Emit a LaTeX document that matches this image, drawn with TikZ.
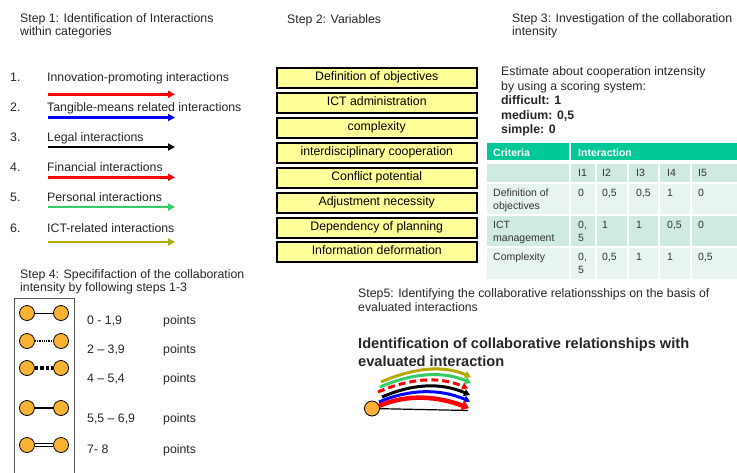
\documentclass[tikz,border=0pt]{standalone}
\usepackage{fontspec}
\setmainfont{Liberation Sans}
\usetikzlibrary{arrows.meta}
\definecolor{boxyellow}{HTML}{FFFF99}
\definecolor{hdrgreen}{HTML}{00C896}
\definecolor{rowdark}{HTML}{CFEADF}
\definecolor{rowlight}{HTML}{E8F5EF}
\definecolor{celltext}{HTML}{333333}
\definecolor{igreen}{HTML}{33CC66}
\definecolor{iolive}{HTML}{B4AA00}
\definecolor{dotorange}{HTML}{F9B233}
\definecolor{framegray}{HTML}{555555}
\begin{document}
\begin{tikzpicture}[x=1pt,y=-1pt,
  font=\fontsize{12.3}{13.5}\selectfont,
  txt/.style={anchor=base west, inner sep=0pt, text=black!85},
  varbox/.style={draw=black, line width=1.5pt, fill=boxyellow, minimum width=200pt, minimum height=20pt, inner sep=0pt, text height=8.8pt, text depth=2.6pt, anchor=north west},
  larrow/.style={line width=2.5pt, -{Triangle[length=7pt,width=7pt]}},
  cell/.style={anchor=base west, inner sep=0pt, text=celltext, font=\fontsize{10.5}{12}\selectfont},
  hcell/.style={anchor=base west, inner sep=0pt, text=white, font=\bfseries\fontsize{10.5}{12}\selectfont},
  dot/.style={circle, draw=black, line width=0.8pt, fill=dotorange, minimum size=15pt, inner sep=0pt},
  barc/.style={-{Triangle[length=6pt,width=7pt]}, line width=3pt}
]
\useasboundingbox (0,0) rectangle (737,472);

% ---------- Step 1
\node[txt] (s1a) at (20,22) {Step 1: Identification of Interactions};
\node[txt] (s1b) at (20,35.5) {within categories};

\node[txt] (n1) at (10,81) {1.};
\node[txt] (t1) at (47,81) {Innovation-promoting interactions};
\coordinate (a1s) at (48,94.3); \coordinate (a1e) at (175,94.3);
\draw[larrow, red] (a1s) -- (a1e);

\node[txt] (n2) at (10,111) {2.};
\node[txt] (t2) at (47,111) {Tangible-means related interactions};
\coordinate (a2s) at (48,117.5); \coordinate (a2e) at (175,117.5);
\draw[larrow, blue] (a2s) -- (a2e);

\node[txt] (n3) at (10,141) {3.};
\node[txt] (t3) at (47,141) {Legal interactions};
\coordinate (a3s) at (48,147); \coordinate (a3e) at (175,147);
\draw[larrow, black] (a3s) -- (a3e);

\node[txt] (n4) at (10,171) {4.};
\node[txt] (t4) at (47,171) {Financial interactions};
\coordinate (a4s) at (48,177.3); \coordinate (a4e) at (175,177.3);
\draw[larrow, red] (a4s) -- (a4e);

\node[txt] (n5) at (10,201) {5.};
\node[txt] (t5) at (47,201) {Personal interactions};
\coordinate (a5s) at (48,207); \coordinate (a5e) at (175,207);
\draw[larrow, igreen] (a5s) -- (a5e);

\node[txt] (n6) at (10,232) {6.};
\node[txt] (t6) at (47,232) {ICT-related interactions};
\coordinate (a6s) at (48,242); \coordinate (a6e) at (175,242);
\draw[larrow, iolive] (a6s) -- (a6e);

% ---------- Step 2
\node[txt] (s2) at (287,23.5) {Step 2: Variables};
\node[varbox] (v1) at (276,67) {Definition of objectives};
\node[varbox] (v2) at (276,92) {ICT administration};
\node[varbox] (v3) at (276,117) {complexity};
\node[varbox] (v4) at (276,142) {interdisciplinary cooperation};
\node[varbox] (v5) at (276,167) {Conflict potential};
\node[varbox] (v6) at (276,192) {Adjustment necessity};
\node[varbox] (v7) at (276,217) {Dependency of planning};
\node[varbox] (v8) at (276,241) {Information deformation};

% ---------- Step 3
\node[txt] (s3a) at (512,22) {Step 3: Investigation of the collaboration};
\node[txt] (s3b) at (512,35.5) {intensity};
\node[txt] (e1) at (501,75.5) {Estimate about cooperation intzensity};
\node[txt] (e2) at (501,90) {by using a scoring system:};
\node[txt, font=\bfseries\fontsize{12.3}{13.5}\selectfont] (e3) at (501,104.5) {difficult: 1};
\node[txt, font=\bfseries\fontsize{12.3}{13.5}\selectfont] (e4) at (501,119) {medium: 0,5};
\node[txt, font=\bfseries\fontsize{12.3}{13.5}\selectfont] (e5) at (501,133.5) {simple: 0};

% table backgrounds
\fill[hdrgreen] (487,143) rectangle (569,160);
\fill[hdrgreen] (571,143) rectangle (737,160);
\foreach \ya/\yb/\col in {164/182/rowdark,184/214/rowlight,216/246/rowdark,248/279/rowlight}{
  \fill[\col] (487,\ya) rectangle (569,\yb);
  \fill[\col] (571,\ya) rectangle (595,\yb);
  \fill[\col] (597,\ya) rectangle (627,\yb);
  \fill[\col] (629,\ya) rectangle (658,\yb);
  \fill[\col] (660,\ya) rectangle (690,\yb);
  \fill[\col] (692,\ya) rectangle (737,\yb);
}
\node[hcell] (hc) at (493,156) {Criteria};
\node[hcell] (hi) at (578,156) {Interaction};
\node[cell] (i1) at (578,176) {I1};
\node[cell] (i2) at (602,176) {I2};
\node[cell] (i3) at (636,176) {I3};
\node[cell] (i4) at (667,176) {I4};
\node[cell] (i5) at (698,176) {I5};

\node[cell] (r1a) at (493,196) {Definition of};
\node[cell] (r1b) at (493,209) {objectives};
\node[cell] (r1c1) at (578,196) {0};
\node[cell] (r1c2) at (602,196) {0,5};
\node[cell] (r1c3) at (636,196) {0,5};
\node[cell] (r1c4) at (667,196) {1};
\node[cell] (r1c5) at (698,196) {0};

\node[cell] (r2a) at (493,228) {ICT};
\node[cell] (r2b) at (493,241) {management};
\node[cell] (r2c1) at (578,228) {0,};
\node[cell] (r2c1b) at (578,241) {5};
\node[cell] (r2c2) at (602,228) {1};
\node[cell] (r2c3) at (636,228) {1};
\node[cell] (r2c4) at (667,228) {0,5};
\node[cell] (r2c5) at (698,228) {0};

\node[cell] (r3a) at (493,260) {Complexity};
\node[cell] (r3c1) at (578,260) {0,};
\node[cell] (r3c1b) at (578,273) {5};
\node[cell] (r3c2) at (602,260) {0,5};
\node[cell] (r3c3) at (636,260) {1};
\node[cell] (r3c4) at (667,260) {1};
\node[cell] (r3c5) at (698,260) {0,5};

% ---------- Step 4
\node[txt] (s4a) at (20,278.5) {Step 4: Specififaction of the collaboration};
\node[txt] (s4b) at (20,291.5) {intensity by following steps 1-3};
\coordinate (fr1) at (14.5,473); \coordinate (fr2) at (14.5,298);
\coordinate (fr3) at (74,298); \coordinate (fr4) at (74,473);
\draw[framegray, line width=0.9pt] (fr1) -- (fr2) -- (fr3) -- (fr4);

\node[dot] (d1a) at (27,313) {}; \node[dot] (d1b) at (61,313) {};
\draw[line width=0.8pt] (d1a) -- (d1b);
\node[dot] (d2a) at (27,341) {}; \node[dot] (d2b) at (61,341) {};
\draw[line width=2pt, dash pattern=on 1pt off 0.8pt] (d2a) -- (d2b);
\node[dot] (d3a) at (27,368) {}; \node[dot] (d3b) at (61,368) {};
\draw[line width=3.5pt, dash pattern=on 3.5pt off 2pt] (d3a) -- (d3b);
\node[dot] (d4a) at (27,408) {}; \node[dot] (d4b) at (61,408) {};
\draw[line width=1.2pt] (d4a) -- (d4b);
\node[dot] (d5a) at (27,445) {}; \node[dot] (d5b) at (61,445) {};
\draw[line width=0.9pt, double, double distance=2.2pt] (d5a) -- (d5b);

\node[txt] (p1) at (87,324) {0 - 1,9};   \node[txt] (q1) at (163,324) {points};
\node[txt] (p2) at (87,353) {2 -- 3,9};  \node[txt] (q2) at (163,353) {points};
\node[txt] (p3) at (87,382) {4 -- 5,4};  \node[txt] (q3) at (163,382) {points};
\node[txt] (p4) at (87,422) {5,5 -- 6,9}; \node[txt] (q4) at (163,422) {points};
\node[txt] (p5) at (87,453) {7- 8};      \node[txt] (q5) at (163,453) {points};

% ---------- Step 5
\node[txt] (s5a) at (358,297) {Step5: Identifying the collaborative relationsships on the basis of};
\node[txt] (s5b) at (358,311) {evaluated interactions};
\node[txt, font=\bfseries\fontsize{14.6}{17}\selectfont] (t5a) at (358,348) {Identification of collaborative relationships with};
\node[txt, font=\bfseries\fontsize{14.6}{17}\selectfont] (t5b) at (358,366) {evaluated interaction};

\node[dot, minimum size=15pt] (o) at (372,408.5) {};
\coordinate (bl) at (468,410.5);
\draw[line width=1.2pt] (o) -- (bl);

\coordinate (ols) at (381,382); \coordinate (ole) at (471,377);
\draw[barc, iolive] (ols) .. controls +(30,-13) and +(-30,-13) .. (ole);
\coordinate (grs) at (380,387); \coordinate (gre) at (471,383);
\draw[barc, igreen] (grs) .. controls +(30,-13) and +(-30,-13) .. (gre);
\coordinate (rds) at (378,392); \coordinate (rde) at (468,388.5);
\draw[barc, red, dash pattern=on 7pt off 4pt] (rds) .. controls +(30,-13) and +(-30,-13) .. (rde);
\coordinate (bks) at (382,397); \coordinate (bke) at (470,395);
\draw[barc, black] (bks) .. controls +(30,-13) and +(-30,-13) .. (bke);
\coordinate (bus) at (379,402); \coordinate (bue) at (470,401.5);
\draw[barc, blue] (bus) .. controls +(30,-13) and +(-30,-13) .. (bue);
\coordinate (res) at (379,406); \coordinate (ree) at (469,408);
\draw[red, line width=4.5pt, -{Triangle[length=7pt,width=10pt]}] (res) .. controls +(30,-13) and +(-30,-11) .. (ree);
\end{tikzpicture}
\end{document}
